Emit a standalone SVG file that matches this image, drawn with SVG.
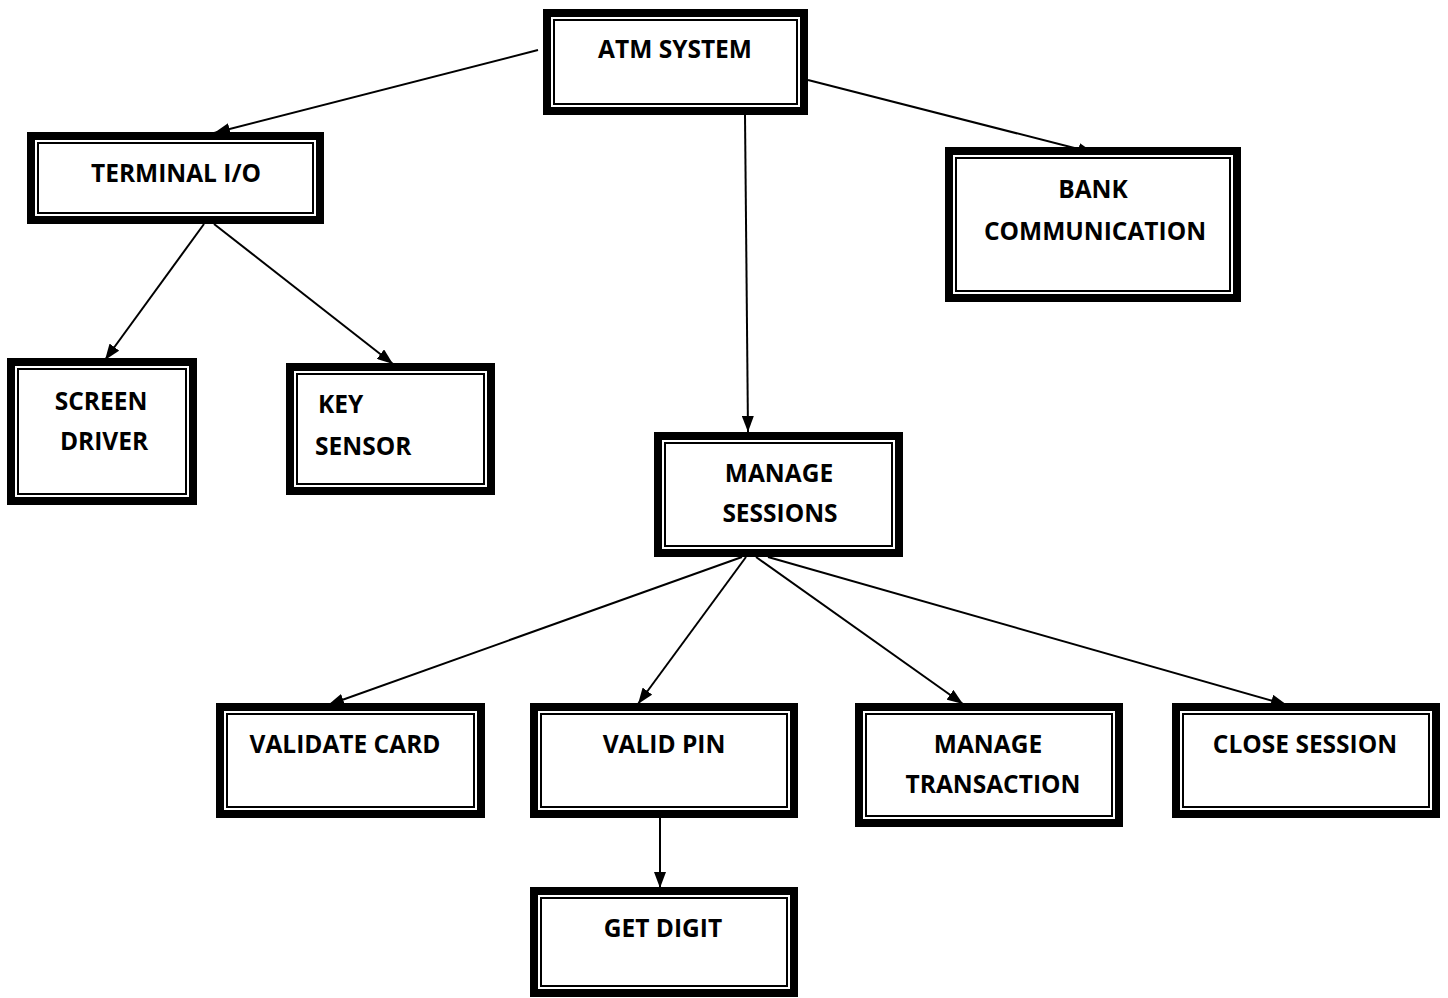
<svg xmlns="http://www.w3.org/2000/svg" width="1448" height="998" viewBox="0 0 1448 998">
<style>
.o{fill:#fff;stroke:#000;stroke-width:8}
.i{fill:none;stroke:#000;stroke-width:2}
.t{font-family:"Open Sans","Liberation Sans",sans-serif;font-weight:bold;font-size:24.5px;fill:#000}
.c{text-anchor:middle}
.e{stroke:#000;stroke-width:2;fill:none;marker-end:url(#ah)}
</style>
<defs>
<marker id="ah" markerUnits="userSpaceOnUse" viewBox="0 0 16 12" refX="16" refY="6" markerWidth="16" markerHeight="12" orient="auto">
<path d="M0,0 L16,6 L0,12 Z" fill="#000"/>
</marker>
</defs>
<rect width="1448" height="998" fill="#fff"/>
<g id="connectors">
<line class="e" x1="538" y1="50" x2="214" y2="133"/>
<line class="e" x1="745" y1="115" x2="748" y2="432"/>
<line class="e" x1="808" y1="80" x2="1094" y2="153"/>
<line class="e" x1="204" y1="224" x2="105" y2="360"/>
<line class="e" x1="214" y1="224" x2="393" y2="364"/>
<line class="e" x1="742" y1="557" x2="328" y2="705"/>
<line class="e" x1="746" y1="557" x2="638" y2="704"/>
<line class="e" x1="756" y1="557" x2="963" y2="704"/>
<line class="e" x1="768" y1="557" x2="1287" y2="705"/>
<line class="e" x1="660" y1="818" x2="660" y2="888"/>
</g>
<g id="atm-system">
<rect class="o" x="547" y="13" width="257" height="98"/>
<rect class="i" x="554" y="20" width="243" height="84"/>
<text class="t c" x="675" y="58">ATM SYSTEM</text>
</g>
<g id="terminal-io">
<rect class="o" x="31" y="136" width="289" height="84"/>
<rect class="i" x="38" y="143" width="275" height="70"/>
<text class="t c" x="176" y="182">TERMINAL I/O</text>
</g>
<g id="bank-communication">
<rect class="o" x="949" y="151" width="288" height="147"/>
<rect class="i" x="956" y="158" width="274" height="133"/>
<text class="t c" x="1093" y="198">BANK</text>
<text class="t c" x="1095" y="240">COMMUNICATION</text>
</g>
<g id="screen-driver">
<rect class="o" x="11" y="362" width="182" height="139"/>
<rect class="i" x="18" y="369" width="168" height="125"/>
<text class="t c" x="101" y="410">SCREEN</text>
<text class="t c" x="104" y="450">DRIVER</text>
</g>
<g id="key-sensor">
<rect class="o" x="290" y="367" width="201" height="124"/>
<rect class="i" x="297" y="374" width="187" height="110"/>
<text class="t" x="318" y="413">KEY</text>
<text class="t" x="315" y="455">SENSOR</text>
</g>
<g id="manage-sessions">
<rect class="o" x="658" y="436" width="241" height="117"/>
<rect class="i" x="665" y="443" width="227" height="103"/>
<text class="t c" x="779" y="482">MANAGE</text>
<text class="t c" x="780" y="522">SESSIONS</text>
</g>
<g id="validate-card">
<rect class="o" x="220" y="707" width="261" height="107"/>
<rect class="i" x="227" y="714" width="247" height="93"/>
<text class="t c" x="345" y="753">VALIDATE CARD</text>
</g>
<g id="valid-pin">
<rect class="o" x="534" y="707" width="260" height="107"/>
<rect class="i" x="541" y="714" width="246" height="93"/>
<text class="t c" x="664" y="753">VALID PIN</text>
</g>
<g id="manage-transaction">
<rect class="o" x="859" y="707" width="260" height="116"/>
<rect class="i" x="866" y="714" width="246" height="102"/>
<text class="t c" x="988" y="753">MANAGE</text>
<text class="t c" x="993" y="793">TRANSACTION</text>
</g>
<g id="close-session">
<rect class="o" x="1176" y="707" width="260" height="107"/>
<rect class="i" x="1183" y="714" width="246" height="93"/>
<text class="t c" x="1305" y="753">CLOSE SESSION</text>
</g>
<g id="get-digit">
<rect class="o" x="534" y="891" width="260" height="102"/>
<rect class="i" x="541" y="898" width="246" height="88"/>
<text class="t c" x="663" y="937">GET DIGIT</text>
</g>
</svg>
